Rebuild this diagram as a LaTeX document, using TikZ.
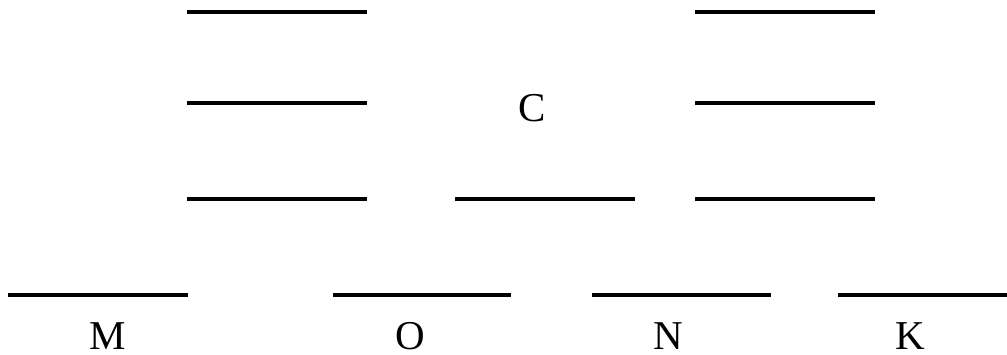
\documentclass[tikz,border=0pt]{standalone}
\usepackage{fontspec}
\setmainfont{Liberation Serif}
\usepackage{tikz}
\usetikzlibrary{positioning}

\begin{document}
\begin{tikzpicture}[
  x=1pt,y=-1pt,
  level/.style={draw=black,line width=4pt},
  lab/.style={anchor=base,inner sep=0pt,font=\fontsize{41}{41}\selectfont}
]
\useasboundingbox (0,0) rectangle (1007,355);
% left stack
\draw[level] (187,12) -- (367,12);
\draw[level] (187,103) -- (367,103);
\draw[level] (187,199) -- (367,199);
% middle
\draw[level] (455,199) -- (635,199);
\node[lab] (c) at (532,122) {C};
% right stack
\draw[level] (695,12) -- (875,12);
\draw[level] (695,103) -- (875,103);
\draw[level] (695,199) -- (875,199);
% bottom row
\draw[level] (8,295) -- (188,295);
\draw[level] (333,295) -- (511,295);
\draw[level] (592,295) -- (771,295);
\draw[level] (838,295) -- (1007,295);
\node[lab] (m) at (108,350) {M};
\node[lab] (o) at (410,350) {O};
\node[lab] (n) at (668,350) {N};
\node[lab] (k) at (910,350) {K};
\end{tikzpicture}
\end{document}
